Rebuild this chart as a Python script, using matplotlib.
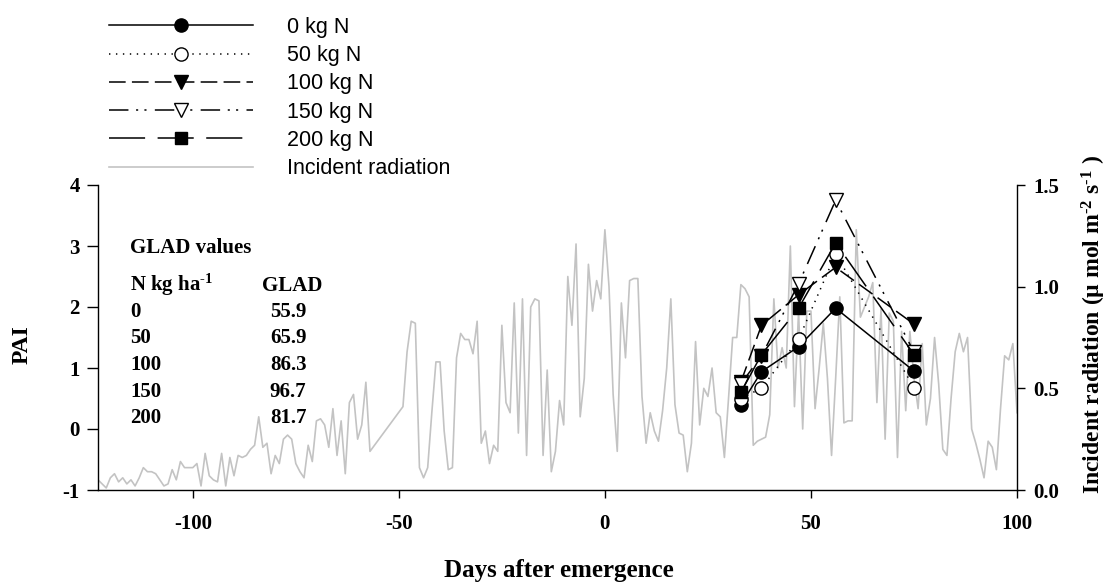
import matplotlib
matplotlib.use('Agg')
import matplotlib.pyplot as plt

# ---------------- data ----------------
sample_days = [33, 38, 47, 56, 75]
pai_0 = [0.40, 0.94, 1.35, 1.98, 0.95]
pai_50 = [0.50, 0.67, 1.47, 2.87, 0.68]
pai_100 = [0.77, 1.70, 2.20, 2.65, 1.72]
pai_150 = [0.74, 1.20, 2.38, 3.75, 1.26]
pai_200 = [0.60, 1.22, 1.98, 3.05, 1.22]
series_labels = ['0 kg N', '50 kg N', '100 kg N', '150 kg N', '200 kg N', 'Incident radiation']

rad_days = list(range(-123, -56)) + list(range(-49, 101))
rad_vals = [
    # -123 .. -57
    0.05, 0.03, 0.01, 0.06, 0.08, 0.04, 0.06, 0.03, 0.05, 0.02,
    0.06, 0.11, 0.09, 0.09, 0.08, 0.05, 0.02, 0.03, 0.10, 0.05,
    0.14, 0.11, 0.11, 0.11, 0.13, 0.02, 0.18, 0.07, 0.05, 0.04,
    0.18, 0.02, 0.16, 0.07, 0.17, 0.16, 0.17, 0.20, 0.22, 0.36,
    0.21, 0.23, 0.08, 0.17, 0.13, 0.25, 0.27, 0.25, 0.13, 0.09,
    0.06, 0.22, 0.14, 0.34, 0.35, 0.32, 0.21, 0.40, 0.17, 0.34,
    0.08, 0.43, 0.47, 0.25, 0.32, 0.53, 0.19,
    # -49 .. 20
    0.41, 0.68, 0.83, 0.82, 0.11, 0.06, 0.11, 0.38, 0.63, 0.63,
    0.29, 0.10, 0.11, 0.65, 0.77, 0.74, 0.74, 0.67, 0.83, 0.23,
    0.29, 0.13, 0.22, 0.19, 0.81, 0.43, 0.38, 0.92, 0.28, 0.94,
    0.17, 0.90, 0.94, 0.93, 0.17, 0.59, 0.09, 0.19, 0.44, 0.32,
    1.05, 0.81, 1.21, 0.36, 0.55, 1.11, 0.88, 1.03, 0.94, 1.28,
    1.00, 0.47, 0.19, 0.92, 0.65, 1.03, 1.04, 1.04, 0.46, 0.23,
    0.38, 0.29, 0.24, 0.39, 0.60, 0.94, 0.42, 0.28, 0.27, 0.09,
    # 21 .. 100
    0.23, 0.73, 0.32, 0.50, 0.46, 0.60, 0.38, 0.36, 0.16, 0.45,
    0.75, 0.75, 1.01, 0.99, 0.95, 0.22, 0.24, 0.25, 0.26, 0.37,
    0.94, 0.60, 0.70, 0.60, 1.20, 0.41, 0.88, 0.30, 0.88, 0.88,
    0.40, 0.60, 0.82, 0.55, 0.17, 0.55, 0.95, 0.33, 0.34, 0.34,
    1.28, 0.85, 0.90, 0.95, 1.02, 0.43, 0.89, 0.25, 0.87, 0.83,
    0.16, 0.78, 0.39, 0.78, 0.55, 0.40, 0.72, 0.32, 0.45, 0.75,
    0.52, 0.20, 0.17, 0.45, 0.68, 0.77, 0.68, 0.75, 0.30, 0.23,
    0.15, 0.06, 0.24, 0.21, 0.10, 0.40, 0.66, 0.64, 0.72, 0.38,
]

glad_levels = ['0', '50', '100', '150', '200']
glad_values = [55.9, 65.9, 86.3, 96.7, 81.7]

x_ticks = [-100, -50, 0, 50, 100]
pai_ticks = [-1, 0, 1, 2, 3, 4]
rad_ticks = [0.0, 0.5, 1.0, 1.5]

# ---------------- style ----------------
plt.rcParams['lines.scale_dashes'] = False
plt.rcParams['axes.unicode_minus'] = False
plt.rcParams['mathtext.fontset'] = 'custom'
plt.rcParams['mathtext.rm'] = 'Liberation Serif:bold'
plt.rcParams['mathtext.bf'] = 'Liberation Serif:bold'
plt.rcParams['mathtext.default'] = 'bf'
plt.rcParams['font.family'] = ['Liberation Serif', 'DejaVu Serif']
plt.rcParams['font.weight'] = 'bold'

W, H = 1109, 584
fig = plt.figure(figsize=(W / 100, H / 100), dpi=100)
L, R, T, B = 98, 1017, 185, 490
ax = fig.add_axes([L / W, 1 - B / H, (R - L) / W, (B - T) / H])
ax2 = ax.twinx()
ax.set_zorder(ax2.get_zorder() + 1)
ax.patch.set_visible(False)

rad_line, = ax2.plot(rad_days, rad_vals, color='#c3c3c3', lw=1.2, zorder=1)

lw = 1.1
ms = 9.5
common = dict(color='black', lw=lw, markeredgecolor='black', markeredgewidth=1.0)
l0, = ax.plot(sample_days, pai_0, linestyle='-', marker='o', ms=ms, markerfacecolor='black', **common)
l50, = ax.plot(sample_days, pai_50, linestyle=(0, (1.0, 4.0)), marker='o', ms=ms, markerfacecolor='white', **common)
l100, = ax.plot(sample_days, pai_100, linestyle=(0, (12, 4.5)), marker='v', ms=ms, markerfacecolor='black', **common)
l150, = ax.plot(sample_days, pai_150, linestyle=(0, (14, 5.5, 1.5, 4.5, 1.5, 6)), marker='v', ms=ms,
                markerfacecolor='white', **common)
l200, = ax.plot(sample_days, pai_200, linestyle=(0, (26, 9)), marker='s', ms=8.5, markerfacecolor='black', **common)

ax.set_xlim(-123, 100)
ax.set_ylim(-1, 4)
ax2.set_ylim(0, 1.5)
ax.set_xticks(x_ticks)
ax.set_yticks(pai_ticks)
ax2.set_yticks(rad_ticks)
ax2.set_yticklabels([f'{v:.1f}' for v in rad_ticks])

for a in (ax, ax2):
    a.spines['top'].set_visible(False)
    for s in a.spines.values():
        s.set_linewidth(1.0)
ax.spines['right'].set_visible(False)
ax2.spines['left'].set_visible(False)
ax2.spines['bottom'].set_visible(False)

ax.tick_params(axis='x', direction='out', length=6, width=1.0, pad=11, labelsize=15)
ax.tick_params(axis='y', direction='out', length=8, width=1.0, pad=5, labelsize=15)
ax2.tick_params(axis='y', direction='out', length=6, width=1.0, pad=6, labelsize=15)
for lab in ax.get_xticklabels() + ax.get_yticklabels() + ax2.get_yticklabels():
    lab.set_fontweight('bold')

# axis labels
fig.text(22 / W, 1 - 345 / H, 'PAI', rotation=90, ha='center', va='center',
         fontsize=17, fontweight='bold')
fig.text(559 / W, 1 - 570 / H, 'Days after emergence', ha='center', va='center',
         fontsize=18, fontweight='bold')
fig.text(1094 / W, 1 - 325 / H, r'Incident radiation (µ mol m$^{\text{-2}}$ s$^{\text{-1}}$ )', rotation=90,
         ha='center', va='center', fontsize=17, fontweight='bold')

# GLAD table
tf = dict(transform=ax.transAxes, fontsize=15, fontweight='bold', va='baseline')
ax.text(0.035, 0.778, 'GLAD values', ha='left', **tf)
ax.text(0.035, 0.652, r'N kg ha$^{\text{-1}}$', ha='left', **tf)
ax.text(0.1785, 0.652, 'GLAD', ha='left', **tf)
row_y = [0.568, 0.481, 0.393, 0.306, 0.219]
for lev, val, yy in zip(glad_levels, glad_values, row_y):
    ax.text(0.035, yy, lev, ha='left', **tf)
    ax.text(0.187, yy, f'{val:.1f}', ha='left', **tf)

# legend
handles = [l0, l50, l100, l150, l200, rad_line]
fig.legend(handles, series_labels, loc='upper left', bbox_to_anchor=(109 / W, 1 - 17 / H),
           bbox_transform=fig.transFigure, frameon=False, borderpad=0, borderaxespad=0,
           handlelength=6.7, handletextpad=1.58, labelspacing=0.335, numpoints=1,
           prop={'family': 'Liberation Sans', 'size': 15.5, 'weight': 'normal'})

fig.savefig('out.png', dpi=100)
